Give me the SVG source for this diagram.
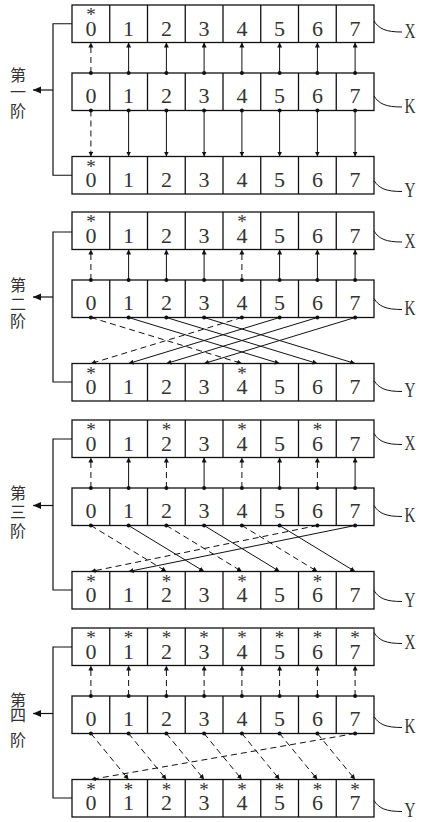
<svg xmlns="http://www.w3.org/2000/svg" xmlns:xlink="http://www.w3.org/1999/xlink" width="423" height="822" viewBox="0 0 423 822">
<style>
.box{fill:none;stroke:#111;stroke-width:1.3}
.dg{font-family:"Liberation Serif",serif;font-size:22px;fill:#333;text-anchor:middle}
.st{font-size:19px}
.lb{font-family:"Liberation Serif",serif;font-size:22px;fill:#333;text-anchor:middle}
.cj{font-family:"Noto Sans CJK SC","Noto Sans CJK JP",sans-serif;font-size:16px;fill:#333;text-anchor:middle}
.br{fill:none;stroke:#111;stroke-width:1.2}
.cv{fill:none;stroke:#111;stroke-width:1}
.s{stroke:#111;stroke-width:1;marker-end:url(#ah)}
.d{stroke:#111;stroke-width:1;stroke-dasharray:6 4;marker-end:url(#ah)}
.dot{fill:#111}
</style>
<defs>
<marker id="ah" markerWidth="6" markerHeight="6" refX="5" refY="2.5" orient="auto" markerUnits="userSpaceOnUse"><path d="M0,0L5,2.5L0,5Z" fill="#111"/></marker>
<marker id="big" markerWidth="10" markerHeight="8" refX="8" refY="3.5" orient="auto" markerUnits="userSpaceOnUse"><path d="M0,0L8,3.5L0,7Z" fill="#111"/></marker>
<g id="row"><rect class="box" x="0" y="0" width="302" height="37.5"/><path class="box" d="M37.75,0v37.5M75.5,0v37.5M113.25,0v37.5M151,0v37.5M188.75,0v37.5M226.5,0v37.5M264.25,0v37.5"/></g>
</defs>

<!-- Stage 1 -->
<g id="s1-label">
<path class="br" d="M72,23.75H53V175.25H72"/>
<line x1="53" y1="90" x2="33" y2="90" stroke="#111" stroke-width="1.2" marker-end="url(#big)"/>
<text class="cj" x="18" y="81">第</text><text class="cj" x="18" y="98">一</text><text class="cj" x="18" y="117">阶</text>
</g>
<g id="s1-X"><use xlink:href="#row" x="72" y="5"/>
<text class="dg"><tspan x="90.9 128.6 166.4 204.1 241.9 279.6 317.4 355.1" y="35.5">01234567</tspan><tspan class="st" x="90.9" y="21">*</tspan></text>
<path class="cv" d="M374,21C379,29 386,32 402,32"/><text class="lb" x="410" y="37.5" textLength="11" lengthAdjust="spacingAndGlyphs">X</text></g>
<g id="s1-K"><use xlink:href="#row" x="72" y="73"/>
<text class="dg" x="90.9 128.6 166.4 204.1 241.9 279.6 317.4 355.1" y="102.5">01234567</text>
<path class="cv" d="M374,96C379,104 386,107 402,107"/><text class="lb" x="410" y="112.5" textLength="11" lengthAdjust="spacingAndGlyphs">K</text></g>
<g id="s1-Y"><use xlink:href="#row" x="72" y="156.5"/>
<text class="dg"><tspan x="90.9 128.6 166.4 204.1 241.9 279.6 317.4 355.1" y="187">01234567</tspan><tspan class="st" x="90.9" y="172.5">*</tspan></text>
<path class="cv" d="M374,180.5C379,188.5 386,191.5 402,191.5"/><text class="lb" x="410" y="197" textLength="11" lengthAdjust="spacingAndGlyphs">Y</text></g>

<!-- Stage 2 -->
<g id="s2-label">
<path class="br" d="M72,232H53V382H72"/>
<line x1="53" y1="297" x2="33" y2="297" stroke="#111" stroke-width="1.2" marker-end="url(#big)"/>
<text class="cj" x="18" y="291">第</text><text class="cj" x="18" y="310">二</text><text class="cj" x="18" y="327">阶</text>
</g>
<g id="s2-X"><use xlink:href="#row" x="72" y="212"/>
<text class="dg"><tspan x="90.9 128.6 166.4 204.1 241.9 279.6 317.4 355.1" y="242.5">01234567</tspan><tspan class="st" x="90.9 241.9" y="228">**</tspan></text>
<path class="cv" d="M374,231C379,239 386,242 402,242"/><text class="lb" x="410" y="247.5" textLength="11" lengthAdjust="spacingAndGlyphs">X</text></g>
<g id="s2-K"><use xlink:href="#row" x="72" y="280"/>
<text class="dg" x="90.9 128.6 166.4 204.1 241.9 279.6 317.4 355.1" y="309.5">01234567</text>
<path class="cv" d="M374,298.5C379,306.5 386,309.5 402,309.5"/><text class="lb" x="410" y="315" textLength="11" lengthAdjust="spacingAndGlyphs">K</text></g>
<g id="s2-Y"><use xlink:href="#row" x="72" y="363.5"/>
<text class="dg"><tspan x="90.9 128.6 166.4 204.1 241.9 279.6 317.4 355.1" y="394">01234567</tspan><tspan class="st" x="90.9 241.9" y="379.5">**</tspan></text>
<path class="cv" d="M374,380.5C379,388.5 386,391.5 402,391.5"/><text class="lb" x="410" y="397" textLength="11" lengthAdjust="spacingAndGlyphs">Y</text></g>

<!-- Stage 3 -->
<g id="s3-label">
<path class="br" d="M72,439H53V590H72"/>
<line x1="53" y1="505.5" x2="33" y2="505.5" stroke="#111" stroke-width="1.2" marker-end="url(#big)"/>
<text class="cj" x="18" y="498.5">第</text><text class="cj" x="18" y="518">三</text><text class="cj" x="18" y="537">阶</text>
</g>
<g id="s3-X"><use xlink:href="#row" x="72" y="420"/>
<text class="dg"><tspan x="90.9 128.6 166.4 204.1 241.9 279.6 317.4 355.1" y="450.5">01234567</tspan><tspan class="st" x="90.9 166.4 241.9 317.4" y="436">****</tspan></text>
<path class="cv" d="M374,433.5C379,441.5 386,444.5 402,444.5"/><text class="lb" x="410" y="450" textLength="11" lengthAdjust="spacingAndGlyphs">X</text></g>
<g id="s3-K"><use xlink:href="#row" x="72" y="488"/>
<text class="dg" x="90.9 128.6 166.4 204.1 241.9 279.6 317.4 355.1" y="517.5">01234567</text>
<path class="cv" d="M374,505.5C379,513.5 386,516.5 402,516.5"/><text class="lb" x="410" y="522" textLength="11" lengthAdjust="spacingAndGlyphs">K</text></g>
<g id="s3-Y"><use xlink:href="#row" x="72" y="571.5"/>
<text class="dg"><tspan x="90.9 128.6 166.4 204.1 241.9 279.6 317.4 355.1" y="602">01234567</tspan><tspan class="st" x="90.9 166.4 241.9 317.4" y="587.5">****</tspan></text>
<path class="cv" d="M374,590.5C379,598.5 386,601.5 402,601.5"/><text class="lb" x="410" y="607" textLength="11" lengthAdjust="spacingAndGlyphs">Y</text></g>

<!-- Stage 4 -->
<g id="s4-label">
<path class="br" d="M72,647H53V798H72"/>
<line x1="53" y1="713.5" x2="33" y2="713.5" stroke="#111" stroke-width="1.2" marker-end="url(#big)"/>
<text class="cj" x="18" y="705.5">第</text><text class="cj" x="18" y="721">四</text><text class="cj" x="18" y="745.5">阶</text>
</g>
<g id="s4-X"><use xlink:href="#row" x="72" y="628"/>
<text class="dg"><tspan x="90.9 128.6 166.4 204.1 241.9 279.6 317.4 355.1" y="658.5">01234567</tspan><tspan class="st" x="90.9 128.6 166.4 204.1 241.9 279.6 317.4 355.1" y="644">********</tspan></text>
<path class="cv" d="M374,632.5C379,640.5 386,643.5 402,643.5"/><text class="lb" x="410" y="649" textLength="11" lengthAdjust="spacingAndGlyphs">X</text></g>
<g id="s4-K"><use xlink:href="#row" x="72" y="696"/>
<text class="dg" x="90.9 128.6 166.4 204.1 241.9 279.6 317.4 355.1" y="725.5">01234567</text>
<path class="cv" d="M374,716.5C379,724.5 386,727.5 402,727.5"/><text class="lb" x="410" y="733" textLength="11" lengthAdjust="spacingAndGlyphs">K</text></g>
<g id="s4-Y"><use xlink:href="#row" x="72" y="779.5"/>
<text class="dg"><tspan x="90.9 128.6 166.4 204.1 241.9 279.6 317.4 355.1" y="810">01234567</tspan><tspan class="st" x="90.9 128.6 166.4 204.1 241.9 279.6 317.4 355.1" y="795.5">********</tspan></text>
<path class="cv" d="M374,800.5C379,808.5 386,811.5 402,811.5"/><text class="lb" x="410" y="817" textLength="11" lengthAdjust="spacingAndGlyphs">Y</text></g>

<g id="connectors">
<!-- stage 1 -->
<line class="d" x1="90.9" y1="73" x2="90.9" y2="42.5"/>
<line class="s" x1="128.6" y1="73" x2="128.6" y2="42.5"/>
<line class="s" x1="166.4" y1="73" x2="166.4" y2="42.5"/>
<line class="s" x1="204.1" y1="73" x2="204.1" y2="42.5"/>
<line class="s" x1="241.9" y1="73" x2="241.9" y2="42.5"/>
<line class="s" x1="279.6" y1="73" x2="279.6" y2="42.5"/>
<line class="s" x1="317.4" y1="73" x2="317.4" y2="42.5"/>
<line class="s" x1="355.1" y1="73" x2="355.1" y2="42.5"/>
<line class="d" x1="90.9" y1="110.5" x2="90.9" y2="156.5"/>
<line class="s" x1="128.6" y1="110.5" x2="128.6" y2="156.5"/>
<line class="s" x1="166.4" y1="110.5" x2="166.4" y2="156.5"/>
<line class="s" x1="204.1" y1="110.5" x2="204.1" y2="156.5"/>
<line class="s" x1="241.9" y1="110.5" x2="241.9" y2="156.5"/>
<line class="s" x1="279.6" y1="110.5" x2="279.6" y2="156.5"/>
<line class="s" x1="317.4" y1="110.5" x2="317.4" y2="156.5"/>
<line class="s" x1="355.1" y1="110.5" x2="355.1" y2="156.5"/>
<!-- stage 2 -->
<line class="d" x1="90.9" y1="280" x2="90.9" y2="249.5"/>
<line class="s" x1="128.6" y1="280" x2="128.6" y2="249.5"/>
<line class="s" x1="166.4" y1="280" x2="166.4" y2="249.5"/>
<line class="s" x1="204.1" y1="280" x2="204.1" y2="249.5"/>
<line class="d" x1="241.9" y1="280" x2="241.9" y2="249.5"/>
<line class="s" x1="279.6" y1="280" x2="279.6" y2="249.5"/>
<line class="s" x1="317.4" y1="280" x2="317.4" y2="249.5"/>
<line class="s" x1="355.1" y1="280" x2="355.1" y2="249.5"/>
<line class="d" x1="90.9" y1="317.5" x2="241.9" y2="363.5"/>
<line class="s" x1="128.6" y1="317.5" x2="279.6" y2="363.5"/>
<line class="s" x1="166.4" y1="317.5" x2="317.4" y2="363.5"/>
<line class="s" x1="204.1" y1="317.5" x2="355.1" y2="363.5"/>
<line class="d" x1="241.9" y1="317.5" x2="90.9" y2="363.5"/>
<line class="s" x1="279.6" y1="317.5" x2="128.6" y2="363.5"/>
<line class="s" x1="317.4" y1="317.5" x2="166.4" y2="363.5"/>
<line class="s" x1="355.1" y1="317.5" x2="204.1" y2="363.5"/>
<!-- stage 3 -->
<line class="d" x1="90.9" y1="488" x2="90.9" y2="457.5"/>
<line class="s" x1="128.6" y1="488" x2="128.6" y2="457.5"/>
<line class="d" x1="166.4" y1="488" x2="166.4" y2="457.5"/>
<line class="s" x1="204.1" y1="488" x2="204.1" y2="457.5"/>
<line class="d" x1="241.9" y1="488" x2="241.9" y2="457.5"/>
<line class="s" x1="279.6" y1="488" x2="279.6" y2="457.5"/>
<line class="d" x1="317.4" y1="488" x2="317.4" y2="457.5"/>
<line class="s" x1="355.1" y1="488" x2="355.1" y2="457.5"/>
<line class="d" x1="90.9" y1="525.5" x2="166.4" y2="571.5"/>
<line class="s" x1="128.6" y1="525.5" x2="204.1" y2="571.5"/>
<line class="d" x1="166.4" y1="525.5" x2="241.9" y2="571.5"/>
<line class="s" x1="204.1" y1="525.5" x2="279.6" y2="571.5"/>
<line class="d" x1="241.9" y1="525.5" x2="317.4" y2="571.5"/>
<line class="s" x1="279.6" y1="525.5" x2="355.1" y2="571.5"/>
<line class="d" x1="317.4" y1="525.5" x2="90.9" y2="571.5"/>
<line class="s" x1="355.1" y1="525.5" x2="128.6" y2="571.5"/>
<!-- stage 4 -->
<line class="d" x1="90.9" y1="696" x2="90.9" y2="665.5"/>
<line class="d" x1="128.6" y1="696" x2="128.6" y2="665.5"/>
<line class="d" x1="166.4" y1="696" x2="166.4" y2="665.5"/>
<line class="d" x1="204.1" y1="696" x2="204.1" y2="665.5"/>
<line class="d" x1="241.9" y1="696" x2="241.9" y2="665.5"/>
<line class="d" x1="279.6" y1="696" x2="279.6" y2="665.5"/>
<line class="d" x1="317.4" y1="696" x2="317.4" y2="665.5"/>
<line class="d" x1="355.1" y1="696" x2="355.1" y2="665.5"/>
<line class="d" x1="90.9" y1="733.5" x2="128.6" y2="779.5"/>
<line class="d" x1="128.6" y1="733.5" x2="166.4" y2="779.5"/>
<line class="d" x1="166.4" y1="733.5" x2="204.1" y2="779.5"/>
<line class="d" x1="204.1" y1="733.5" x2="241.9" y2="779.5"/>
<line class="d" x1="241.9" y1="733.5" x2="279.6" y2="779.5"/>
<line class="d" x1="279.6" y1="733.5" x2="317.4" y2="779.5"/>
<line class="d" x1="317.4" y1="733.5" x2="355.1" y2="779.5"/>
<line class="d" x1="355.1" y1="733.5" x2="90.9" y2="779.5"/>
<!-- dots -->
<g class="dot">
<circle cx="90.9" cy="73" r="2"/><circle cx="128.6" cy="73" r="2"/><circle cx="166.4" cy="73" r="2"/><circle cx="204.1" cy="73" r="2"/><circle cx="241.9" cy="73" r="2"/><circle cx="279.6" cy="73" r="2"/><circle cx="317.4" cy="73" r="2"/><circle cx="355.1" cy="73" r="2"/>
<circle cx="90.9" cy="110.5" r="2"/><circle cx="128.6" cy="110.5" r="2"/><circle cx="166.4" cy="110.5" r="2"/><circle cx="204.1" cy="110.5" r="2"/><circle cx="241.9" cy="110.5" r="2"/><circle cx="279.6" cy="110.5" r="2"/><circle cx="317.4" cy="110.5" r="2"/><circle cx="355.1" cy="110.5" r="2"/>
<circle cx="90.9" cy="280" r="2"/><circle cx="128.6" cy="280" r="2"/><circle cx="166.4" cy="280" r="2"/><circle cx="204.1" cy="280" r="2"/><circle cx="241.9" cy="280" r="2"/><circle cx="279.6" cy="280" r="2"/><circle cx="317.4" cy="280" r="2"/><circle cx="355.1" cy="280" r="2"/>
<circle cx="90.9" cy="317.5" r="2"/><circle cx="128.6" cy="317.5" r="2"/><circle cx="166.4" cy="317.5" r="2"/><circle cx="204.1" cy="317.5" r="2"/><circle cx="241.9" cy="317.5" r="2"/><circle cx="279.6" cy="317.5" r="2"/><circle cx="317.4" cy="317.5" r="2"/><circle cx="355.1" cy="317.5" r="2"/>
<circle cx="90.9" cy="488" r="2"/><circle cx="128.6" cy="488" r="2"/><circle cx="166.4" cy="488" r="2"/><circle cx="204.1" cy="488" r="2"/><circle cx="241.9" cy="488" r="2"/><circle cx="279.6" cy="488" r="2"/><circle cx="317.4" cy="488" r="2"/><circle cx="355.1" cy="488" r="2"/>
<circle cx="90.9" cy="525.5" r="2"/><circle cx="128.6" cy="525.5" r="2"/><circle cx="166.4" cy="525.5" r="2"/><circle cx="204.1" cy="525.5" r="2"/><circle cx="241.9" cy="525.5" r="2"/><circle cx="279.6" cy="525.5" r="2"/><circle cx="317.4" cy="525.5" r="2"/><circle cx="355.1" cy="525.5" r="2"/>
<circle cx="90.9" cy="696" r="2"/><circle cx="128.6" cy="696" r="2"/><circle cx="166.4" cy="696" r="2"/><circle cx="204.1" cy="696" r="2"/><circle cx="241.9" cy="696" r="2"/><circle cx="279.6" cy="696" r="2"/><circle cx="317.4" cy="696" r="2"/><circle cx="355.1" cy="696" r="2"/>
<circle cx="90.9" cy="733.5" r="2"/><circle cx="128.6" cy="733.5" r="2"/><circle cx="166.4" cy="733.5" r="2"/><circle cx="204.1" cy="733.5" r="2"/><circle cx="241.9" cy="733.5" r="2"/><circle cx="279.6" cy="733.5" r="2"/><circle cx="317.4" cy="733.5" r="2"/><circle cx="355.1" cy="733.5" r="2"/>
</g>
</g>
</svg>
